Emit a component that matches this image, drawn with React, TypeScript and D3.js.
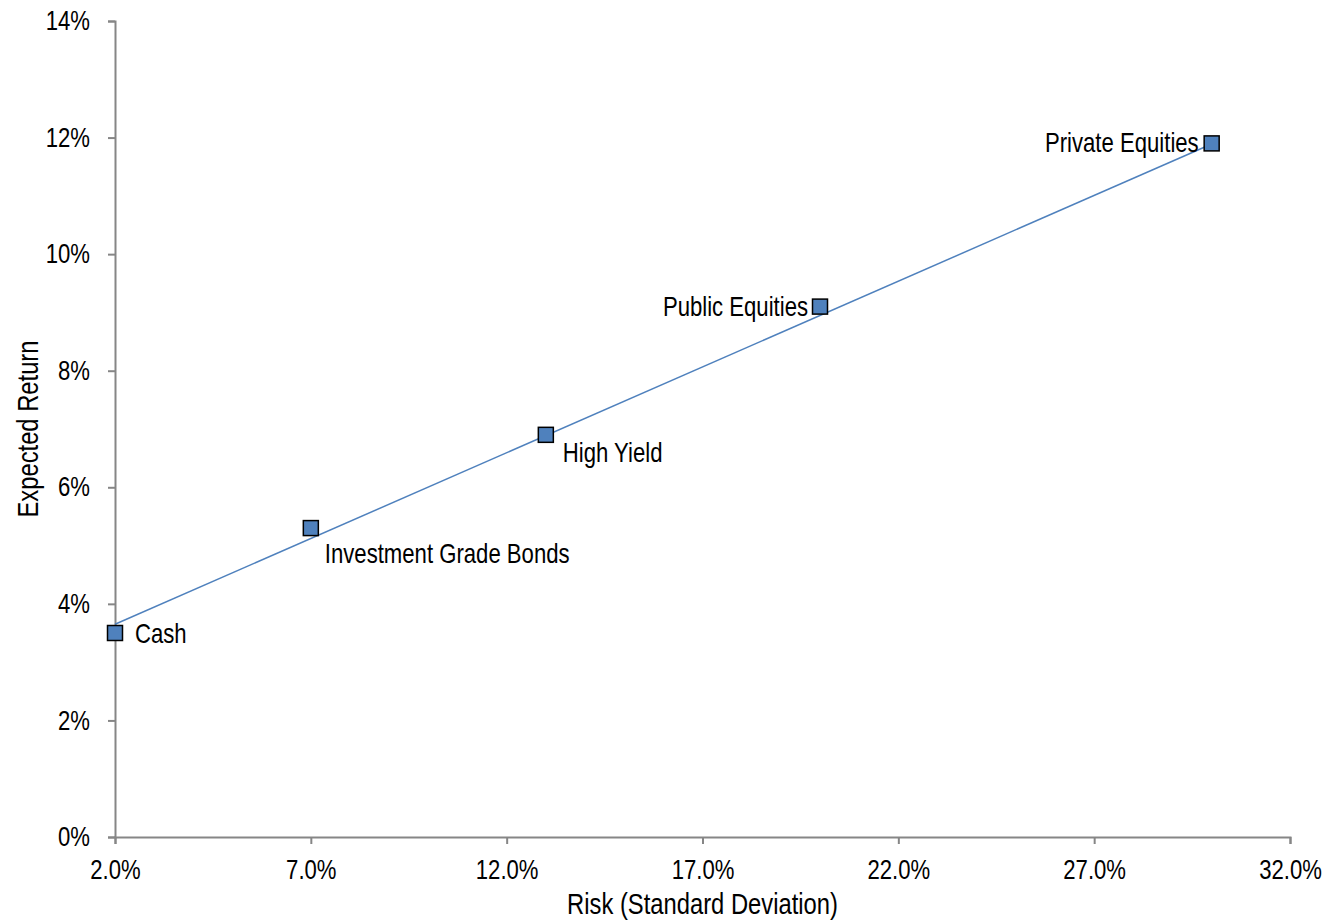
import React, { useEffect, useRef } from "react";
import * as d3 from "d3";

// Asset classes: risk (std dev, %) and expected return (%)
const assetNames = ["Cash", "Investment Grade Bonds", "High Yield", "Public Equities", "Private Equities"];
const riskValues = [2.0, 7.0, 13.0, 20.0, 30.0];
const returnValues = [3.5, 5.3, 6.9, 9.1, 11.9];

// Risk/return line endpoints
const frontierRisk = [2.0, 30.0];
const frontierReturn = [3.65, 11.89];

// Axis ticks
const xTicks = [2, 7, 12, 17, 22, 27, 32];
const yTicks = [0, 2, 4, 6, 8, 10, 12, 14];

const WIDTH = 1327;
const HEIGHT = 922;
const margin = { left: 115, right: 37, top: 21, bottom: 85 };
const FONT = "'Liberation Sans', Arial, sans-serif";
// Horizontal squeeze that gives the condensed lettering
const NARROW = 0.82;
const AXIS_COLOR = "#868686";
const BLUE = "#4F81BD";

// Label placement around each marker: anchor side and pixel offset
const labelLayout: Record<string, { anchor: "start" | "end"; dx: number; dy: number }> = {
  Cash: { anchor: "start", dx: 20, dy: 1 },
  "Investment Grade Bonds": { anchor: "start", dx: 14, dy: 25 },
  "High Yield": { anchor: "start", dx: 17, dy: 18 },
  "Public Equities": { anchor: "end", dx: -12, dy: 0 },
  "Private Equities": { anchor: "end", dx: -13, dy: -1 },
};

export default function App() {
  const ref = useRef<SVGSVGElement | null>(null);

  useEffect(() => {
    const svg = d3.select(ref.current);
    svg.selectAll("*").remove();

    const x = d3.scaleLinear().domain([2, 32]).range([margin.left, WIDTH - margin.right]);
    const y = d3.scaleLinear().domain([0, 14]).range([HEIGHT - margin.bottom, margin.top]);

    const g = svg.append("g");

    // Y axis
    const yAxis = d3
      .axisLeft(y)
      .tickValues(yTicks)
      .tickSize(7)
      .tickFormat((d) => `${d}%`);
    const yg = g.append("g").attr("transform", `translate(${margin.left},0)`).call(yAxis);
    yg.selectAll(".tick text")
      .attr("x", -25 / NARROW)
      .attr("transform", `scale(${NARROW},1)`);

    // X axis
    const xAxis = d3
      .axisBottom(x)
      .tickValues(xTicks)
      .tickSize(7)
      .tickPadding(16)
      .tickFormat((d) => `${(+d).toFixed(1)}%`);
    const xg = g.append("g").attr("transform", `translate(0,${HEIGHT - margin.bottom})`).call(xAxis);
    xg.selectAll(".tick text").attr("transform", `scale(${NARROW},1)`);

    [yg, xg].forEach((ax) => {
      ax.select(".domain").attr("stroke", AXIS_COLOR).attr("stroke-width", 2);
      ax.selectAll(".tick line").attr("stroke", AXIS_COLOR).attr("stroke-width", 2);
      ax.selectAll(".tick text")
        .attr("fill", "#000")
        .style("font-family", FONT)
        .style("font-size", "27px");
    });

    // Axis titles
    g.append("text")
      .attr(
        "transform",
        `translate(${(margin.left + WIDTH - margin.right) / 2},914) scale(${NARROW},1)`
      )
      .attr("text-anchor", "middle")
      .style("font-family", FONT)
      .style("font-size", "29px")
      .text("Risk (Standard Deviation)");

    g.append("text")
      .attr(
        "transform",
        `translate(38,${(margin.top + HEIGHT - margin.bottom) / 2}) rotate(-90) scale(${NARROW},1)`
      )
      .attr("text-anchor", "middle")
      .style("font-family", FONT)
      .style("font-size", "29px")
      .text("Expected Return");

    // Risk/return line
    const lineData = frontierRisk.map((r, i) => [r, frontierReturn[i]] as [number, number]);
    const line = d3
      .line<[number, number]>()
      .x((d) => x(d[0]))
      .y((d) => y(d[1]));
    g.append("path")
      .attr("d", line(lineData))
      .attr("fill", "none")
      .attr("stroke", BLUE)
      .attr("stroke-width", 1.5);

    // Markers
    const size = 15;
    const points = assetNames.map((name, i) => ({
      name,
      risk: riskValues[i],
      ret: returnValues[i],
    }));

    g.selectAll("rect.marker")
      .data(points)
      .enter()
      .append("rect")
      .attr("class", "marker")
      .attr("x", (d) => x(d.risk) - size / 2)
      .attr("y", (d) => y(d.ret) - size / 2)
      .attr("width", size)
      .attr("height", size)
      .attr("fill", BLUE)
      .attr("stroke", "#000")
      .attr("stroke-width", 1.5);

    // Data labels
    g.selectAll("text.label")
      .data(points)
      .enter()
      .append("text")
      .attr("class", "label")
      .attr("transform", (d) => {
        const l = labelLayout[d.name];
        return `translate(${x(d.risk) + l.dx},${y(d.ret) + l.dy}) scale(${NARROW},1)`;
      })
      .attr("dy", "0.35em")
      .attr("text-anchor", (d) => labelLayout[d.name].anchor)
      .style("font-family", FONT)
      .style("font-size", "27px")
      .text((d) => d.name);
  }, []);

  return (
    <svg
      ref={ref}
      width={WIDTH}
      height={HEIGHT}
      style={{ position: "absolute", left: 0, top: 0, background: "#fff" }}
    />
  );
}
